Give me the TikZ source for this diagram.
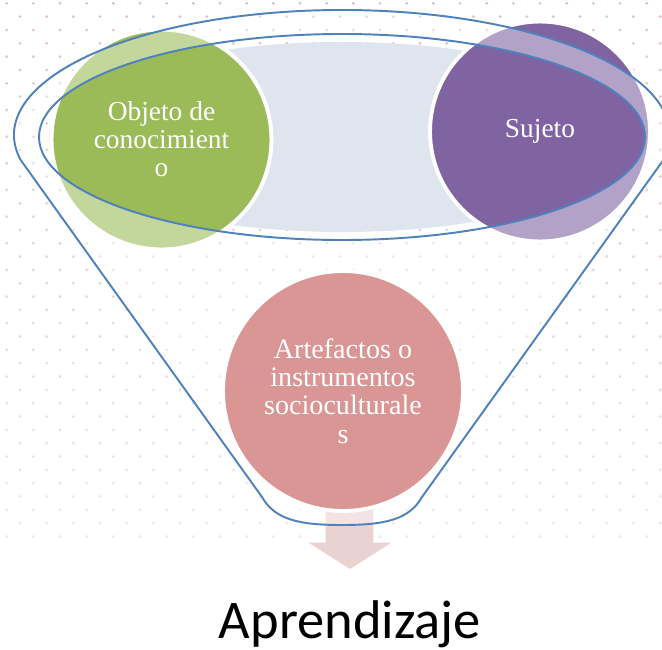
\documentclass[tikz,border=0pt]{standalone}
\usepackage{fontspec}
\setmainfont{Liberation Serif}
\newfontfamily\calibri{Carlito}

\definecolor{verde}{HTML}{9BBB59}
\definecolor{morado}{HTML}{8064A2}
\definecolor{rosa}{HTML}{D99694}
\definecolor{flecha}{HTML}{EAD2D2}
\definecolor{borde}{HTML}{4F81BD}
\definecolor{fondo}{HTML}{DFE5EE}
\definecolor{puntorosa}{RGB}{228,192,206}
\definecolor{puntogris}{RGB}{234,234,234}

\begin{document}
\begin{tikzpicture}[x=0.02cm,y=0.02cm]

% Define styles
\tikzstyle{circulo} = [circle, draw=white, line width=2.2pt, text=white, align=center, inner sep=0pt, font=\fontsize{15.6}{15.9}\selectfont]
\tikzstyle{embudo} = [draw=borde, line width=1.1pt]

\clip (0,0) rectangle (662,-649);

% Background dots
\foreach \k in {0,...,40} {
  \pgfmathtruncatemacro{\t}{100-2.5*\k}
  \colorlet{punto}{puntorosa!\t!puntogris}
  \pgfmathsetmacro{\dx}{mod(\k,2)*13.33+6.67}
  \foreach \i in {0,...,24}
    \fill[punto] (\dx+26.67*\i, -3.3-13.33*\k) circle[radius=1.6];
}

% Back of the funnel
\fill[fondo] (342,-137) ellipse [x radius=293, y radius=95];

% Top circles
\node (objeto) [circulo, fill=verde, minimum size=4.4cm] at (161.5,-139.5) {Objeto de\\conocimient\\o};
\node (sujeto) [circulo, fill=morado, minimum size=4.4cm] at (540,-131.5) {Sujeto};

% Arrow out of the funnel
\fill[flecha, draw=white, line width=0.8pt] (325,-470) -- (325,-542) -- (306,-542) -- (350,-570) -- (394,-542) -- (374,-542) -- (374,-470) -- cycle;

% Funnel body
\fill[white, fill opacity=0.4, even odd rule] (262,-497) -- (20.6,-159.9)
  arc[start angle=191.5, end angle=-11.5, x radius=328, y radius=125]
  -- (422,-497) .. controls (409,-520) and (384,-525) .. (342,-525)
  .. controls (300,-525) and (275,-520) .. (262,-497) -- cycle
  (342,-137) ellipse [x radius=303, y radius=103];
\draw[embudo] (262,-497) -- (20.6,-159.9)
  arc[start angle=191.5, end angle=-11.5, x radius=328, y radius=125]
  -- (422,-497) .. controls (409,-520) and (384,-525) .. (342,-525)
  .. controls (300,-525) and (275,-520) .. (262,-497) -- cycle;
\draw[embudo] (342,-137) ellipse [x radius=303, y radius=103];

% Bottom circle and result
\node (artefactos) [circulo, fill=rosa, minimum size=4.8cm, font=\fontsize{16}{16.2}\selectfont] at (343,-391) {Artefactos o\\instrumentos\\socioculturale\\s};
\node (aprendizaje) [anchor=base, inner sep=0pt, font=\calibri\fontsize{31}{34}\selectfont] at (350,-638) {Aprendizaje};

\end{tikzpicture}
\end{document}
